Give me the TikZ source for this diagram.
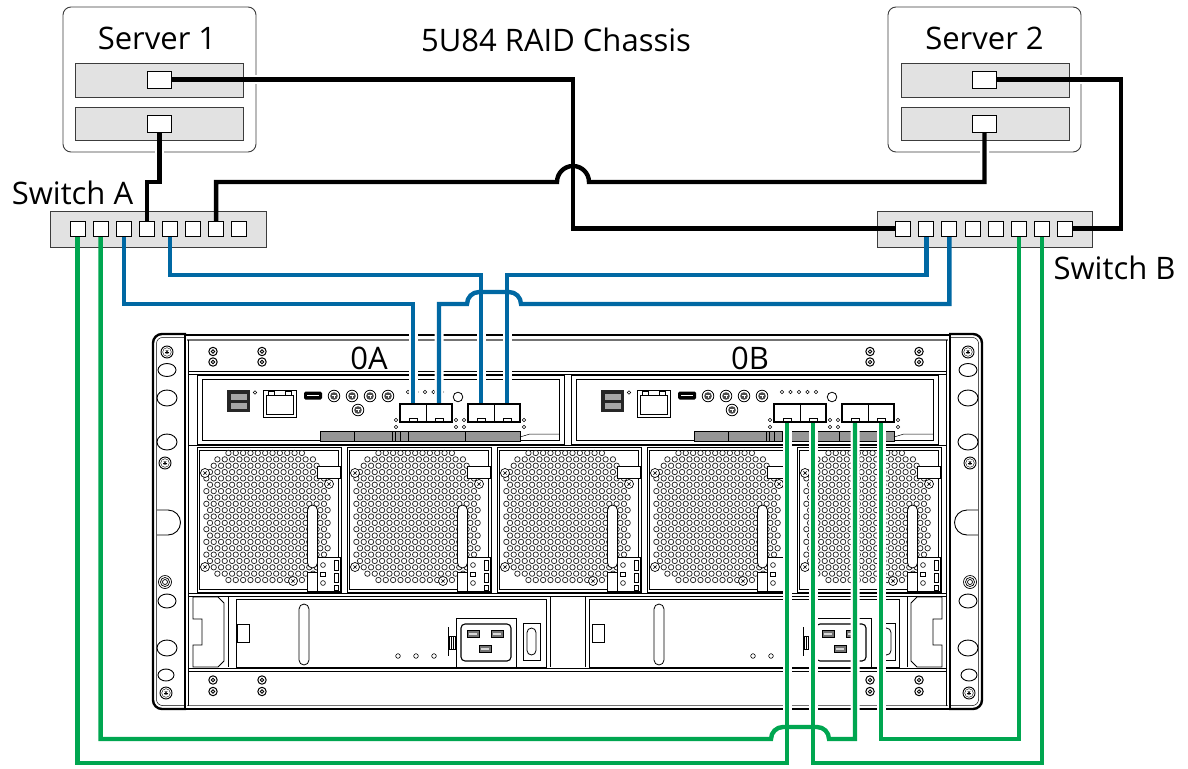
\documentclass[tikz,border=0pt]{standalone}
\usepackage{fontspec}
\setmainfont{Open Sans}
\usetikzlibrary{calc}
\definecolor{cableblue}{RGB}{0,104,163}
\definecolor{cablegreen}{RGB}{0,166,80}
\definecolor{panelfill}{RGB}{226,226,226}
\definecolor{barfill}{RGB}{150,150,150}
\definecolor{edgegray}{RGB}{60,60,60}

% small hardware glyphs
\newcommand\starscrew[2]{%
  \draw[line width=0.9pt, fill=white] (#1,#2) circle[radius=6];
  \draw[line width=0.4pt] (#1,#2) circle[radius=4.3];
  \foreach \a in {0,60,120}
    \draw[line width=0.6pt] (#1,#2) ++(\a:2.3) -- ++(\a+180:4.6);}
\newcommand\ringscrew[2]{%
  \draw[line width=1pt] (#1,#2) circle[radius=4.2];
  \draw[line width=0.8pt] (#1,#2) circle[radius=1.7];}
\newcommand\crossscrew[2]{%
  \draw[line width=0.7pt, fill=white] (#1,#2) circle[radius=4.5];
  \draw[line width=0.7pt] (#1,#2) ++(45:2.2) -- ++(225:4.4)
                          (#1,#2) ++(135:2.2) -- ++(315:4.4);}

% one rack ear (left side; mirrored for the right)
\newcommand\rackear{%
  \fill[white, rounded corners=9pt] (186,334) -- (153,334) -- (153,709) -- (186,709) -- cycle;
  \draw[line width=2.4pt, rounded corners=9pt] (186,334) -- (153,334) -- (153,709) -- (186,709);
  \draw[line width=0.5pt, rounded corners=6pt] (186,337.5) -- (156.5,337.5) -- (156.5,705.5) -- (186,705.5);
  \starscrew{167}{352}
  \draw[line width=0.9pt] (167,370) ellipse[x radius=9, y radius=6.5];
  \draw[line width=0.9pt] (167,398) ellipse[x radius=10, y radius=8];
  \draw[line width=0.9pt] (167,442) ellipse[x radius=10, y radius=8];
  \starscrew{165}{463}
  \draw[line width=0.9pt] (157,510) -- (168,510) arc[start angle=-90, end angle=90, radius=12.5] -- (157,535);
  \foreach \r in {6.5,4.5,2.5} \draw[line width=0.7pt] (165,582) circle[radius=\r];
  \draw[line width=0.9pt] (167,601) ellipse[x radius=9, y radius=7];
  \draw[line width=0.9pt] (167,648) ellipse[x radius=10, y radius=8];
  \draw[line width=0.9pt] (166,675) ellipse[x radius=8, y radius=6];
  \starscrew{166}{693}}

% controller canister, #1 = horizontal offset
\newcommand\controller[1]{%
 \begin{scope}[shift={(#1,0)}]
  \draw[line width=0.9pt] (197,375) rectangle (564,444);
  \draw[line width=0.5pt] (202,379) rectangle (559,440);
  \fill[black!85] (227,390) rectangle (250,412);
  \fill[black!35] (230.5,393.5) rectangle (246.5,399.5);
  \fill[black!35] (230.5,402.5) rectangle (246.5,408.5);
  \draw[line width=0.5pt] (255,392.5) circle[radius=1.8];
  \draw[line width=0.9pt] (263,390) rectangle (296,417);
  \draw[line width=0.6pt] (266,395) rectangle (293,414);
  \draw[line width=0.6pt] (268,391.5) rectangle (274,395) (285,391.5) rectangle (291,395);
  \fill[black, rounded corners=1.5pt] (304,391.5) rectangle (322,399.5);
  \draw[white, line width=0.7pt] (307,395.5) -- (319,395.5);
  \foreach \cx/\cy in {334/396,352/396,370/396,388/396,358/410}{%
    \draw[line width=0.8pt] (\cx,\cy) circle[radius=5.8];
    \fill[black!70] (\cx,\cy) circle[radius=3.8];
    \fill[white] (\cx-2,\cy-1.4) rectangle (\cx+2,\cy-0.4);
    \fill[white] (\cx-0.5,\cy-1.4) rectangle (\cx+0.5,\cy+2);}
  \foreach \cx in {408,416.5,425,433.5,442}
    \draw[line width=0.5pt] (\cx,392) circle[radius=1.8];
  \draw[line width=0.8pt] (458,397) circle[radius=4.8];
  \foreach \cx in {396,456,464,524}
    \draw[line width=0.5pt] (\cx,420) circle[radius=1.7] (\cx,427) circle[radius=1.7];
  \draw[line width=1pt, fill=barfill] (320,431) rectangle (520,441);
  \foreach \cx in {354,392,395,400,408,465} \draw[line width=0.5pt] (\cx,431) -- (\cx,441);
  \draw[line width=0.5pt] (520,437) -- (530,434) -- (559,434);
 \end{scope}}

% fan module, #1 = left edge
\newcommand\fanmodule[1]{%
 \begin{scope}[shift={(#1,0)}]
  \draw[line width=0.8pt] (0,447.5) rectangle (144,592);
  \draw[line width=0.4pt] (2.5,450) rectangle (141.5,589.5);
  \foreach \j in {0,...,20}{%
    \foreach \i in {0,...,18}{%
      \pgfmathsetmacro\dx{(\i-9)*7.35+(mod(\j,2)-0.5)*3.67}%
      \pgfmathsetmacro\dy{(\j-10)*6.35}%
      \pgfmathtruncatemacro\ok{(\dx*\dx+\dy*\dy<5776)&&(abs(\dx)<64)}%
      \ifnum\ok=1 \draw[line width=0.75pt, black!85] (70+\dx,516.5+\dy) circle[radius=2.7];\fi
    }}
  \draw[line width=0.8pt, fill=white] (120,557) rectangle (143,591);
  \draw[line width=0.8pt, fill=white] (110,572) rectangle (120,591);
  \draw[line width=0.8pt, fill=white, rounded corners=5pt] (110.5,505) rectangle (120.5,568);
  \draw[line width=0.8pt, fill=white] (120,466) rectangle (143,478);
  \draw[line width=0.6pt] (126,565) circle[radius=2.4] (126,583) circle[radius=2.4];
  \draw[line width=0.6pt] (123.5,572.5) rectangle (128.5,576.5);
  \foreach \a/\b in {560/570,573/582,585/590} \draw[line width=0.6pt] (137,\a) rectangle (141,\b);
  \crossscrew{8}{473} \crossscrew{132}{484} \crossscrew{8}{567} \crossscrew{96}{581}
 \end{scope}}

% power supply details, #1 = horizontal offset
\newcommand\psudetail[1]{%
 \begin{scope}[shift={(#1,0)}]
  \draw[line width=0.8pt] (237,624) rectangle (249,642);
  \draw[line width=0.8pt, rounded corners=5pt] (299,604) rectangle (309,665);
  \foreach \cx in {398,416,434} \draw[line width=0.6pt] (\cx,656) circle[radius=2.3];
  \draw[line width=0.8pt] (448,627) -- (448,656);
  \draw[line width=0.6pt] (449,636) rectangle (455,649);
  \draw[line width=0.5pt] (451,636) -- (451,649) (453,636) -- (453,649);
  \draw[line width=0.8pt] (456,618) rectangle (516,667);
  \draw[line width=1.1pt, rounded corners=4pt] (461,624) rectangle (511,661);
  \foreach \cx/\cy in {473/634,497/634,485/649}{%
    \draw[line width=0.9pt, fill=black!55] (\cx-6,\cy-3.5) rectangle (\cx+6,\cy+3.5);
    \fill[black!15] (\cx-4,\cy-1.3) rectangle (\cx+4,\cy+1.3);}
  \draw[line width=0.8pt] (523,623) rectangle (540,660);
  \draw[line width=0.8pt, rounded corners=4.5pt] (527,628) rectangle (536,655);
 \end{scope}}

\newcommand\psulatch{%
  \draw[line width=0.8pt, fill=white] (193,597) -- (218,597) -- (224,603) -- (224,661) -- (218,667)
     -- (193,667) -- (193,645) -- (202,645) -- (202,619) -- (193,619) -- cycle;
  \draw[line width=0.6pt] (228,597) -- (228,667);}

\newcommand\serverpanels{%
  \foreach \px in {75,901}{%
    \draw[line width=0.9pt, edgegray, fill=panelfill] (\px,63) rectangle ++(168,34);
    \draw[line width=0.9pt, edgegray, fill=panelfill] (\px,107) rectangle ++(168,33);}
  \draw[line width=0.9pt, edgegray, fill=panelfill] (50,211) rectangle (266,247);
  \draw[line width=0.9pt, edgegray, fill=panelfill] (877,211) rectangle (1092,247);}

\begin{document}
\begin{tikzpicture}[x=1pt,y=-1pt,
  label text/.style={font=\fontsize{31}{36}\selectfont, inner sep=0pt, anchor=base},
  portspot/.style={minimum width=15pt, minimum height=15pt, inner sep=0pt, outer sep=0pt},
  srvspot/.style={minimum width=24pt, minimum height=17pt, inner sep=0pt, outer sep=0pt},
  sfpspot/.style={minimum width=26pt, minimum height=18pt, inner sep=0pt, outer sep=0pt},
  halo/.style={draw=white, line width=9pt, line join=miter},
  cable/.style={line width=4.4pt, line join=miter},
  pBk1/.style={insert path={(s1p1.east) -- (573,79.5) -- (573,228.5) -- (swBp1.west)}},
  pBk2/.style={insert path={(swAp7.north) -- (swAp7.north |- 0,182) -- (557,182)
      arc[start angle=180,end angle=360,radius=16] -- (s2p2.south |- 0,182) -- (s2p2.south)}},
  pBk3/.style={insert path={(s1p2.south) -- (s1p2.south |- 0,182) -- (swAp4.north |- 0,182) -- (swAp4.north)}},
  pBk4/.style={insert path={(s2p1.east) -- (1121,79.5) -- (1121,228.5) -- (swBp8.east)}},
  pBl1/.style={insert path={(swAp3.south) -- (swAp3.south |- 0,304) -- (cA1l.north |- 0,304) -- (cA1l.north)}},
  pBl2/.style={insert path={(swAp5.south) -- (swAp5.south |- 0,275) -- (cA2l.north |- 0,275) -- (cA2l.north)}},
  pBl3/.style={insert path={(swBp2.south) -- (swBp2.south |- 0,275) -- (cA2r.north |- 0,275) -- (cA2r.north)}},
  pBl4/.style={insert path={(swBp3.south) -- (swBp3.south |- 0,304) -- (521,304)
      arc[start angle=0,end angle=-90,radius=12] -- (479,292)
      arc[start angle=-90,end angle=-180,radius=12] -- (cA1r.north |- 0,304) -- (cA1r.north)}},
  pGr1/.style={insert path={(swAp1.south) -- (swAp1.south |- 0,763) -- (cB1l.south |- 0,763) -- (cB1l.south)}},
  pGr2/.style={insert path={(swAp2.south) -- (swAp2.south |- 0,739) -- (771,739)
      arc[start angle=180,end angle=270,radius=12] -- (817,727)
      arc[start angle=270,end angle=360,radius=12] -- (cB2l.south |- 0,739) -- (cB2l.south)}},
  pGr3/.style={insert path={(swBp6.south) -- (swBp6.south |- 0,739) -- (cB2r.south |- 0,739) -- (cB2r.south)}},
  pGr4/.style={insert path={(swBp7.south) -- (swBp7.south |- 0,763) -- (cB1r.south |- 0,763) -- (cB1r.south)}},
]
\useasboundingbox (0,0) rectangle (1188,768);
\fill[white] (0,0) rectangle (1188,768);

% ---------------- chassis ----------------
\rackear
\begin{scope}[shift={(1135,0)}, xscale=-1]\rackear\end{scope}
\fill[white] (185,335) rectangle (950,709);
\draw[line width=2.4pt] (184,335) -- (951,335);
\draw[line width=1.2pt, black!55] (187,340) -- (948,340);
\draw[line width=1.2pt, black!55] (187,705.5) -- (948,705.5);
\draw[line width=2.4pt] (184,709) -- (951,709);
\draw[line width=1.6pt] (185,335) -- (185,709);
\draw[line width=1.6pt] (950,335) -- (950,709);
\draw[line width=0.6pt] (188.5,340) -- (188.5,705.5);
\draw[line width=0.6pt] (946.5,340) -- (946.5,705.5);
% band separators
\foreach \yy in {371.5,374.5,445.5,593.5,596.5,668.5,671} \draw[line width=0.7pt] (188.5,\yy) -- (946.5,\yy);
% mounting screws
\foreach \x in {213,262,870,919}{\ringscrew{\x}{351.5}\ringscrew{\x}{362}\ringscrew{\x}{680}\ringscrew{\x}{691.5}}
\node[label text] (t0A) at (369,369) {0A};
\node[label text] (t0B) at (750,369) {0B};
% controllers
\controller{0}
\controller{374}
% fans
\foreach \m in {197,347,497,647,797} {\fanmodule{\m}}
% power supplies
\psulatch
\begin{scope}[shift={(1135,0)}, xscale=-1]\psulatch\end{scope}
\draw[line width=0.8pt] (236,599) rectangle (546,667);
\draw[line width=0.8pt] (589,599) rectangle (899,667);
\draw[line width=0.6pt] (550,597) -- (550,667) (585,597) -- (585,667);
\psudetail{0}
\psudetail{355}

% ---------------- servers and switches ----------------
\draw[line width=0.9pt, edgegray, fill=white, rounded corners=8pt] (63,7) rectangle (256,152);
\draw[line width=0.9pt, edgegray, fill=white, rounded corners=8pt] (888,7) rectangle (1081,152);
\serverpanels
\node[label text] (tS1) at (157,50) {Server 1};
\node[label text] (tS2) at (984.5,50) {Server 2};
\node[label text] (tCh) at (556,52) {5U84 RAID Chassis};
\node[label text] (tSwA) at (72.5,204) {Switch A};
\node[label text] (tSwB) at (1114.5,279) {Switch B};

% port positions
\node[srvspot] (s1p1) at (159.5,79.5) {};
\node[srvspot] (s1p2) at (159.5,124) {};
\node[srvspot] (s2p1) at (984.5,79.5) {};
\node[srvspot] (s2p2) at (984.5,124) {};
\foreach \i in {1,...,8}{%
  \node[portspot] (swAp\i) at ({77.5+(\i-1)*23.1},228.5) {};
  \node[portspot] (swBp\i) at ({903.2+(\i-1)*23.1},228.5) {};}
\foreach \n/\cx in {cA1l/413,cA1r/439,cA2l/481,cA2r/507,cB1l/787,cB1r/813,cB2l/855,cB2r/881}
  \node[sfpspot] (\n) at (\cx,413) {};

% ---------------- cables ----------------
\foreach \p in {pBk1,pBk2,pBk3,pBk4,pBl1,pBl2,pBl3,pBl4,pGr1,pGr2,pGr3,pGr4}
  \path[halo,\p];
\serverpanels
\foreach \p in {pBk1,pBk2,pBk3,pBk4} \draw[cable,black,\p];
\foreach \p in {pBl1,pBl2,pBl3,pBl4} \draw[cable,cableblue,\p];
\foreach \p in {pGr1,pGr2,pGr3,pGr4} \draw[cable,cablegreen,\p];

% ports over the cable ends
\foreach \n in {s1p1,s1p2,s2p1,s2p2}
  \draw[line width=0.9pt, fill=white] (\n.south west) rectangle (\n.north east);
\foreach \i in {1,...,8}{%
  \draw[line width=0.9pt, fill=white] (swAp\i.south west) rectangle (swAp\i.north east);
  \draw[line width=0.9pt, fill=white] (swBp\i.south west) rectangle (swBp\i.north east);}
\foreach \n in {cA1,cA2,cB1,cB2}{%
  \draw[line width=1.5pt, fill=white] (\n l.south west) rectangle (\n r.north east);
  \draw[line width=0.8pt] (\n l.north east) -- (\n l.south east);}
\foreach \cx in {413,439,481,507,787,813,855,881}
  \draw[line width=0.6pt] (\cx-4,420.5) -- (\cx-4,418.5) -- (\cx+4,418.5) -- (\cx+4,420.5);
\end{tikzpicture}
\end{document}
